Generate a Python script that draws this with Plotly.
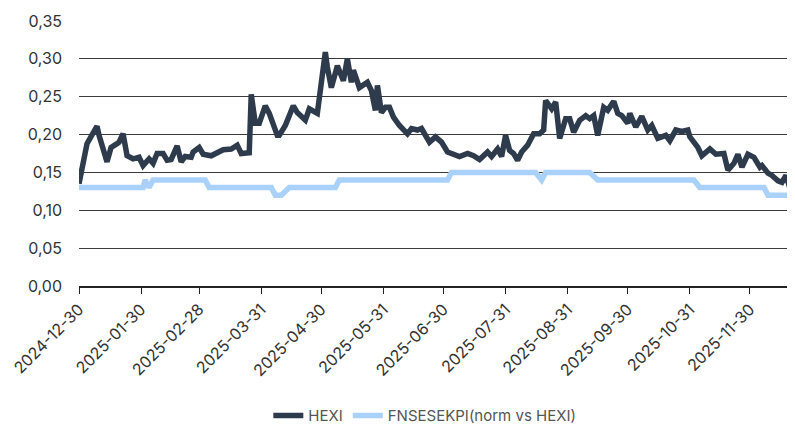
import plotly.graph_objects as go

hexi_dates = [
    "2024-12-30", "2025-01-03", "2025-01-08", "2025-01-09", "2025-01-13", "2025-01-15",
    "2025-01-18", "2025-01-19", "2025-01-21", "2025-01-23", "2025-01-26", "2025-01-29",
    "2025-01-31", "2025-02-03", "2025-02-05", "2025-02-07", "2025-02-10", "2025-02-12",
    "2025-02-14", "2025-02-17", "2025-02-19", "2025-02-21", "2025-02-24", "2025-02-25",
    "2025-02-28", "2025-03-02", "2025-03-06", "2025-03-09", "2025-03-12", "2025-03-16",
    "2025-03-19", "2025-03-21", "2025-03-24", "2025-03-25", "2025-03-26", "2025-03-28",
    "2025-03-30", "2025-04-02", "2025-04-04", "2025-04-08", "2025-04-09", "2025-04-12",
    "2025-04-16", "2025-04-18", "2025-04-22", "2025-04-24", "2025-04-28", "2025-04-30",
    "2025-05-02", "2025-05-03", "2025-05-05", "2025-05-08", "2025-05-11", "2025-05-13",
    "2025-05-15", "2025-05-16", "2025-05-19", "2025-05-23", "2025-05-25", "2025-05-27",
    "2025-05-28", "2025-05-30", "2025-06-01", "2025-06-03", "2025-06-05", "2025-06-08",
    "2025-06-12", "2025-06-14", "2025-06-17", "2025-06-19", "2025-06-23", "2025-06-26",
    "2025-06-29", "2025-07-02", "2025-07-05", "2025-07-08", "2025-07-12", "2025-07-15",
    "2025-07-18", "2025-07-22", "2025-07-24", "2025-07-27", "2025-07-29", "2025-07-31",
    "2025-08-02", "2025-08-04", "2025-08-06", "2025-08-08", "2025-08-11", "2025-08-14",
    "2025-08-17", "2025-08-19", "2025-08-20", "2025-08-23", "2025-08-25", "2025-08-27",
    "2025-08-30", "2025-09-01", "2025-09-03", "2025-09-06", "2025-09-09", "2025-09-11",
    "2025-09-13", "2025-09-15", "2025-09-18", "2025-09-20", "2025-09-23", "2025-09-25",
    "2025-09-27", "2025-09-30", "2025-10-01", "2025-10-04", "2025-10-07", "2025-10-10",
    "2025-10-12", "2025-10-15", "2025-10-19", "2025-10-21", "2025-10-24", "2025-10-27",
    "2025-10-30", "2025-10-31", "2025-11-04", "2025-11-06", "2025-11-10", "2025-11-13",
    "2025-11-17", "2025-11-19", "2025-11-22", "2025-11-24", "2025-11-26", "2025-11-29",
    "2025-12-02", "2025-12-05", "2025-12-06", "2025-12-09", "2025-12-11", "2025-12-14",
    "2025-12-16", "2025-12-18", "2025-12-20", "2025-12-21", "2025-12-22",
]
hexi_values = [
    0.135, 0.188, 0.211, 0.199, 0.164, 0.183,
    0.188, 0.190, 0.201, 0.172, 0.168, 0.170,
    0.159, 0.168, 0.162, 0.175, 0.175, 0.166,
    0.167, 0.185, 0.164, 0.171, 0.170, 0.177,
    0.183, 0.174, 0.172, 0.176, 0.180, 0.181,
    0.186, 0.175, 0.175, 0.176, 0.253, 0.215,
    0.215, 0.238, 0.228, 0.199, 0.199, 0.212,
    0.238, 0.229, 0.219, 0.234, 0.228, 0.276,
    0.309, 0.289, 0.262, 0.291, 0.271, 0.300,
    0.269, 0.285, 0.262, 0.269, 0.258, 0.232,
    0.265, 0.229, 0.236, 0.236, 0.223, 0.212,
    0.201, 0.208, 0.206, 0.208, 0.190, 0.197,
    0.190, 0.177, 0.174, 0.171, 0.175, 0.172,
    0.167, 0.177, 0.171, 0.181, 0.171, 0.199,
    0.179, 0.175, 0.166, 0.177, 0.186, 0.201,
    0.201, 0.206, 0.245, 0.234, 0.243, 0.195,
    0.221, 0.221, 0.203, 0.219, 0.225, 0.221,
    0.225, 0.199, 0.236, 0.232, 0.244, 0.228,
    0.225, 0.215, 0.228, 0.210, 0.224, 0.206,
    0.212, 0.195, 0.199, 0.192, 0.206, 0.204,
    0.206, 0.197, 0.183, 0.172, 0.181, 0.174,
    0.175, 0.153, 0.162, 0.174, 0.157, 0.174,
    0.170, 0.157, 0.159, 0.149, 0.146, 0.139,
    0.137, 0.146, 0.129, 0.120, 0.113,
]

kpi_dates = [
    "2024-12-30", "2025-01-31", "2025-02-01", "2025-02-03", "2025-02-05", "2025-03-03",
    "2025-03-05", "2025-04-05", "2025-04-07", "2025-04-10", "2025-04-14", "2025-05-07",
    "2025-05-09", "2025-07-02", "2025-07-04", "2025-08-15", "2025-08-18", "2025-08-20",
    "2025-09-11", "2025-09-15", "2025-11-02", "2025-11-05", "2025-12-07", "2025-12-09",
    "2025-12-22",
]
kpi_values = [
    0.13, 0.13, 0.14, 0.13, 0.14, 0.14,
    0.13, 0.13, 0.12, 0.12, 0.13, 0.13,
    0.14, 0.14, 0.15, 0.15, 0.14, 0.15,
    0.15, 0.14, 0.14, 0.13, 0.13, 0.12,
    0.12,
]

tick_dates = [
    "2024-12-30", "2025-01-30", "2025-02-28", "2025-03-31", "2025-04-30", "2025-05-31",
    "2025-06-30", "2025-07-31", "2025-08-31", "2025-09-30", "2025-10-31", "2025-11-30",
]
y_ticks = [0, 0.05, 0.10, 0.15, 0.20, 0.25, 0.30, 0.35]

FONT = "Inter, Noto Sans, sans-serif"

fig = go.Figure()
fig.add_trace(go.Scatter(
    x=hexi_dates, y=hexi_values, mode="lines", name="HEXI",
    line=dict(color="#2E3B4C", width=5.5, shape="linear"),
))
fig.add_trace(go.Scatter(
    x=kpi_dates, y=kpi_values, mode="lines", name="FNSESEKPI(norm vs HEXI)",
    line=dict(color="#A9D1FA", width=5.5),
))

# page body has an 8px margin, so the figure is sized/offset to compensate
fig.update_layout(
    width=787, height=419,
    margin=dict(l=71, r=0, t=13, b=141, autoexpand=False),
    paper_bgcolor="white", plot_bgcolor="white",
    separators=", ",
    font=dict(family=FONT, size=16, color="#333333"),
    showlegend=True,
    legend=dict(orientation="h", x=0.483, xanchor="center", y=-0.49, yanchor="middle",
                font=dict(family=FONT, size=15, color="#555555"),
                traceorder="normal"),
    xaxis=dict(
        type="date", automargin=False,
        range=["2024-12-30", "2025-12-22 12:00"],
        tickvals=tick_dates, ticktext=tick_dates,
        tickangle=-45, ticks="outside", ticklen=6, tickcolor="#222222",
        showline=True, linecolor="#222222", linewidth=1.5,
        showgrid=False, zeroline=False,
        tickfont=dict(family=FONT, size=16, color="#333333"),
    ),
    yaxis=dict(
        range=[0, 0.35], tickvals=y_ticks, tickformat=".2f", automargin=False,
        showgrid=True, gridcolor="#3a3a3a", gridwidth=1,
        zeroline=False, showline=False, ticks="", ticklen=0,
        ticklabelstandoff=16,
        tickfont=dict(family=FONT, size=16, color="#333333"),
    ),
)

fig.write_html("out.html")
